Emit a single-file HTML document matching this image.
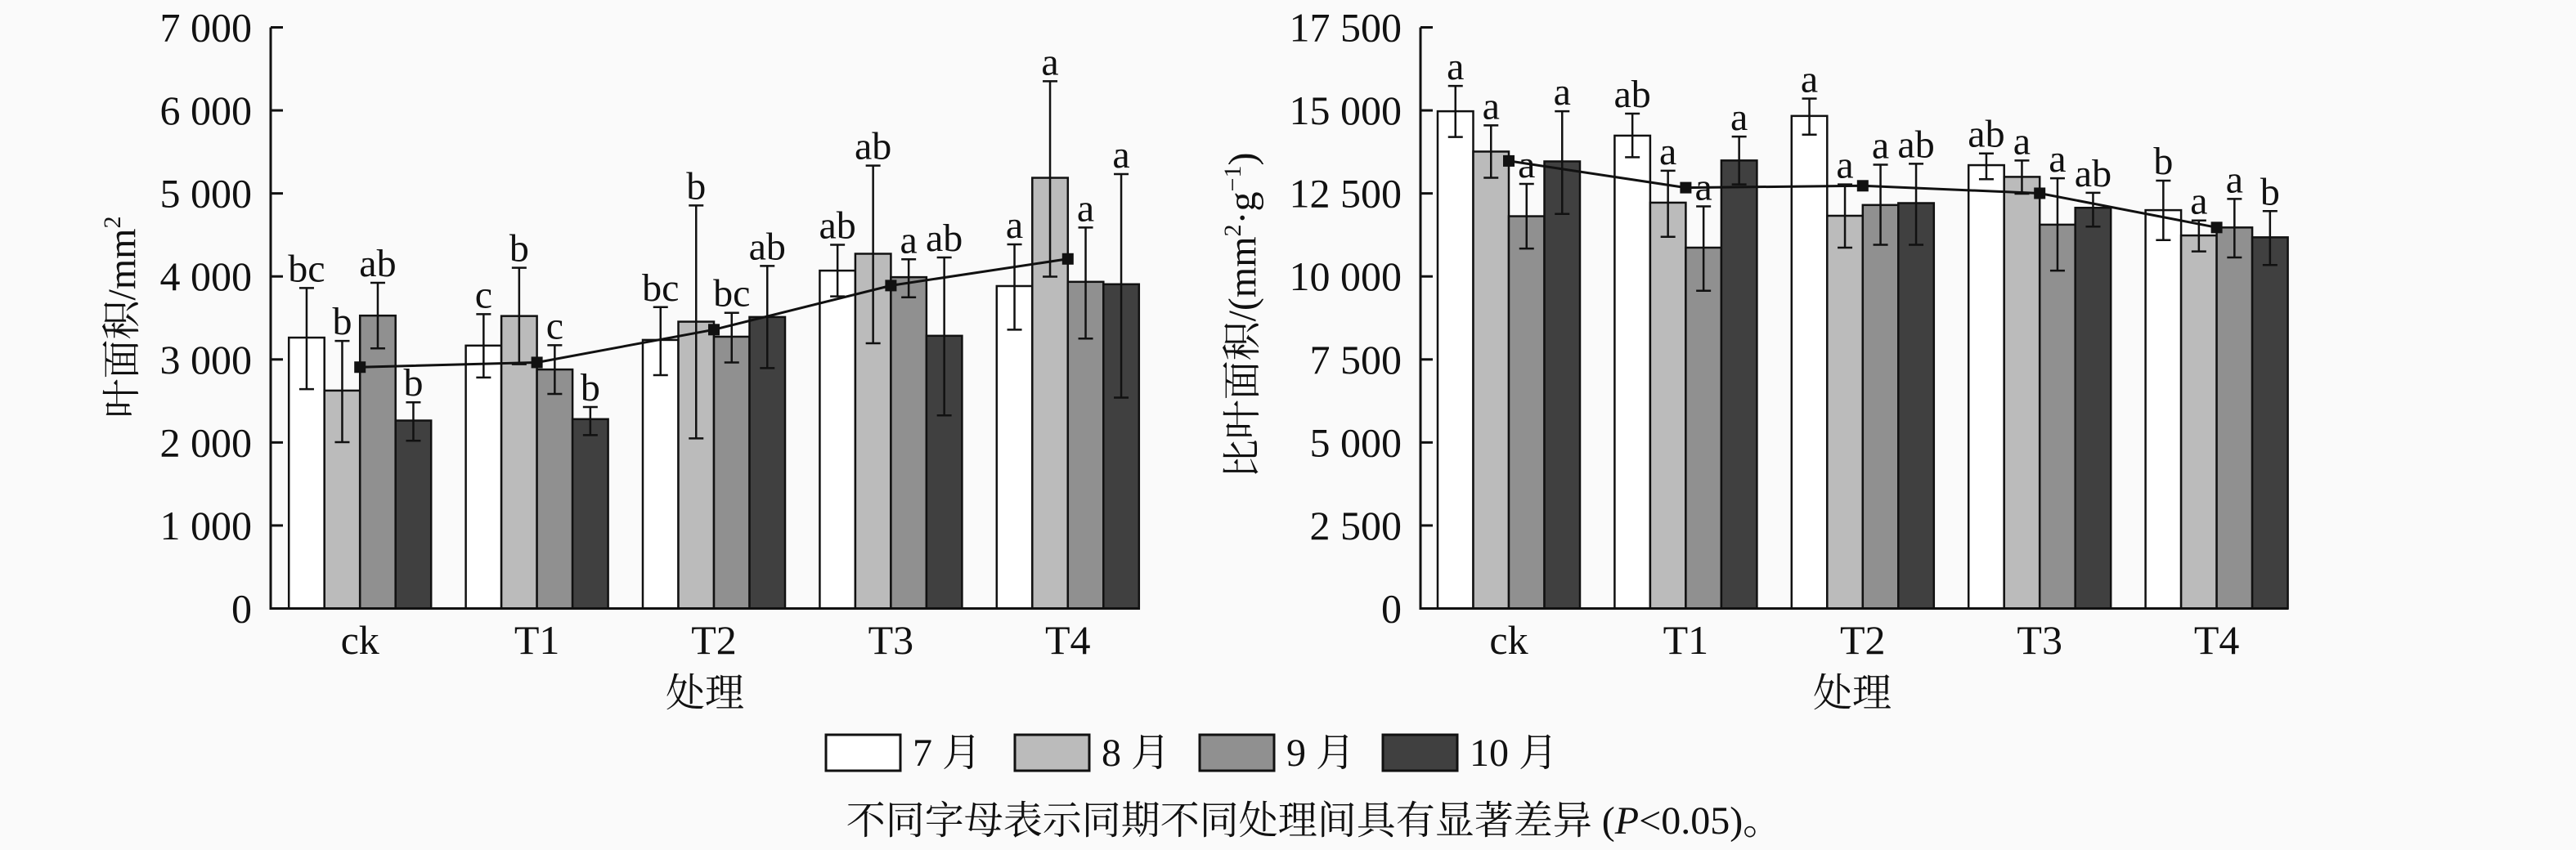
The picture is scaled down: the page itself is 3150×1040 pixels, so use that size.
<!DOCTYPE html>
<html><head><meta charset="utf-8">
<style>
html,body{margin:0;padding:0;background:#fafafa;}
svg{display:block;}
text{font-family:"Liberation Serif","Noto Serif CJK SC",serif;fill:#111;}
</style></head>
<body>
<svg id="chart" width="3150" height="1040" viewBox="0 0 3150 1040" xmlns="http://www.w3.org/2000/svg">
<rect width="3150" height="1040" fill="#fafafa"/>
<g id="g1"></g>
<g id="g2"></g>
<g id="legend"></g>
<text x="1607" y="1020" font-size="48" text-anchor="middle">不同字母表示同期不同处理间具有显著差异 (<tspan font-style="italic">P</tspan>&lt;0.05)。</text>
</svg>
<script>
const categories = ["ck","T1","T2","T3","T4"];
const months = ["7 月","8 月","9 月","10 月"];
const colors = ["#ffffff","#bbbbbb","#909090","#404040"];
// Chart 1: leaf area (mm2), rows = month, cols = treatment
const la_values = [[3263,3167,3235,4070,3884],[2625,3523,3455,4273,5188],[3528,2879,3274,3991,3935],[2264,2281,3511,3285,3906]];
const la_errTop = [[3861,3545,3630,4381,4386],[3223,4104,4855,5335,6351],[3923,3172,3562,4206,4589],[2484,2427,4127,4228,5233]];
const la_errBot = [[2642,2783,2811,3760,3359],[2004,2942,2049,3195,3997],[3133,2585,2964,3748,3252],[2021,2089,2896,2326,2540]];
const la_letters = [["bc","c","bc","ab","a"],["b","b","b","ab","a"],["ab","c","bc","a","a"],["b","b","ab","ab","a"]];
const la_mean = [2907,2964,3359,3890,4211];
const la_ticks = [0,1000,2000,3000,4000,5000,6000,7000];
const la_tickLabels = ["0","1 000","2 000","3 000","4 000","5 000","6 000","7 000"];
// Chart 2: specific leaf area
const sla_values = [[14974,14240,14833,13351,11996],[13760,12222,11827,12998,11234],[11813,10867,12151,11559,11474],[13464,13492,12208,12067,11178]];
const sla_errTop = [[15736,14903,15355,13704,12885],[14551,13182,12772,13492,11686],[12786,12109,13365,12956,12335],[14974,14212,13393,12518,11968]];
const sla_errBot = [[14198,13591,14268,12928,11093],[12970,11192,10867,12490,10754],[10839,9569,10952,10176,10571],[11883,12772,10952,11502,10345]];
const sla_letters = [["a","ab","a","ab","b"],["a","a","a","a","a"],["a","a","a","a","a"],["a","a","ab","ab","b"]];
const sla_mean = [13478,12673,12730,12504,11474];
const sla_ticks = [0,2500,5000,7500,10000,12500,15000,17500];
const sla_tickLabels = ["0","2 500","5 000","7 500","10 000","12 500","15 000","17 500"];

const NS="http://www.w3.org/2000/svg";
function mk(parent,tag,attrs,txt){const e=document.createElementNS(NS,tag);for(const k in attrs)e.setAttribute(k,attrs[k]);if(txt!==undefined)e.textContent=txt;parent.appendChild(e);return e;}

function drawChart(g,cfg){
  const yTop=33.5,yBot=744.5;
  const ymax=cfg.ticks[cfg.ticks.length-1];
  const y=v=>yBot-(v/ymax)*(yBot-yTop);
  const bw=43.5,gs=216.4;
  const bx=(i,j)=>cfg.firstBar+i*gs+j*bw;
  const cx=i=>cfg.firstBar+i*gs+2*bw;
  // bars
  for(let j=0;j<4;j++)for(let i=0;i<categories.length;i++){
    const v=cfg.values[j][i];
    const r=mk(g,'rect',{x:bx(i,j),y:y(v),width:bw,height:yBot-y(v),fill:colors[j],stroke:'#111','stroke-width':2.5});
    
    
  }
  // error bars + letters
  for(let j=0;j<4;j++)for(let i=0;i<categories.length;i++){
    const xc=bx(i,j)+bw/2,t=y(cfg.errTop[j][i]),b=y(cfg.errBot[j][i]);
    const e=mk(g,'path',{d:`M${xc},${t}V${b}M${xc-9},${t}H${xc+9}M${xc-9},${b}H${xc+9}`,stroke:'#111','stroke-width':2.5,fill:'none'});
    
    
    const l=mk(g,'text',{x:xc,y:t-8,'font-size':48,'text-anchor':'middle'},cfg.letters[j][i]);
    
    
  }
  // mean line
  const pts=cfg.mean.map((v,i)=>cx(i)+','+y(v)).join(' ');
  const pl=mk(g,'polyline',{points:pts,fill:'none',stroke:'#111','stroke-width':3});
  
  
  cfg.mean.forEach((v,i)=>{
    const m=mk(g,'rect',{x:cx(i)-7,y:y(v)-7,width:14,height:14,fill:'#111'});
    
    
  });
  // axes
  const ax=mk(g,'path',{d:`M${cfg.axisX},${yTop}V${yBot}H${cfg.axisEnd}`,stroke:'#111','stroke-width':3,fill:'none'});
  
  
  cfg.ticks.forEach((tv,k)=>{
    const tk=mk(g,'line',{x1:cfg.axisX,x2:cfg.axisX+15,y1:y(tv),y2:y(tv),stroke:'#111','stroke-width':3});
    
    
    const tl=mk(g,'text',{x:cfg.axisX-23,y:y(tv)+17,'font-size':50,'text-anchor':'end'},cfg.tickLabels[k]);
    
    
  });
  categories.forEach((c,i)=>{
    const t=mk(g,'text',{x:cx(i),y:800,'font-size':50,'text-anchor':'middle'},c);
    
    
  });
  const xt=mk(g,'text',{x:cfg.xTitleX,y:864,'font-size':48,'text-anchor':'middle'},'处理');
  
  
  const yt=mk(g,'text',{x:0,y:0,'font-size':48,'text-anchor':'middle',transform:`translate(${cfg.yTitleX},${cfg.yTitleY}) rotate(-90)`});
  yt.innerHTML=cfg.yTitle;
  
  
}

drawChart(document.getElementById('g1'),{values:la_values,errTop:la_errTop,errBot:la_errBot,letters:la_letters,mean:la_mean,ticks:la_ticks,tickLabels:la_tickLabels,
  firstBar:353.2,axisX:331,axisEnd:1394,xTitleX:862,yTitleX:165,yTitleY:388,yTitle:'叶面积/mm<tspan font-size="30" dy="-18">2</tspan>'});
drawChart(document.getElementById('g2'),{values:sla_values,errTop:sla_errTop,errBot:sla_errBot,letters:sla_letters,mean:sla_mean,ticks:sla_ticks,tickLabels:sla_tickLabels,
  firstBar:1758,axisX:1737,axisEnd:2798,xTitleX:2265,yTitleX:1535,yTitleY:386,yTitle:'比叶面积/(mm<tspan font-size="30" dy="-18">2</tspan><tspan dy="18">·g</tspan><tspan font-size="30" dy="-18">−1</tspan><tspan dy="18">)</tspan>'});

// legend
const lg=document.getElementById('legend');
const lx=[1010,1241,1467,1691];
months.forEach((m,j)=>{
  const r=mk(lg,'rect',{x:lx[j],y:899,width:91,height:44,fill:colors[j],stroke:'#111','stroke-width':3});
  
  
  const t=mk(lg,'text',{x:lx[j]+106,y:937,'font-size':48},m);
  
  
});
</script>
</body></html>
